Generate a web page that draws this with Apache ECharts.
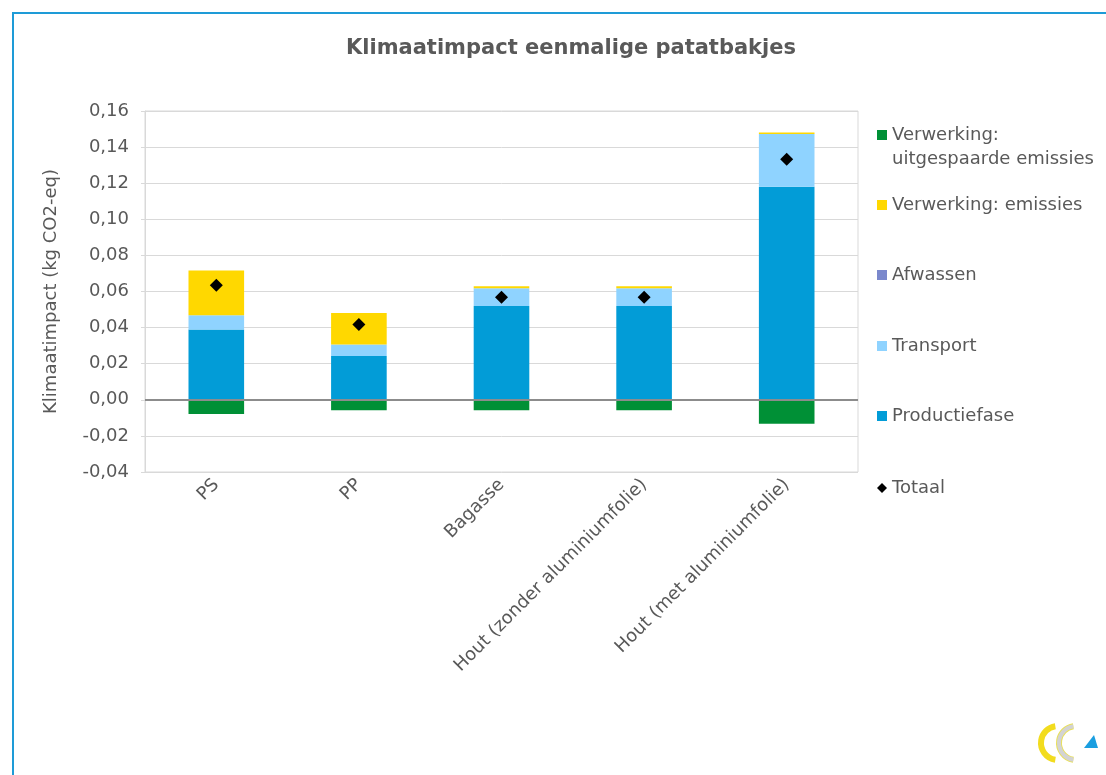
<!DOCTYPE html>
<html>
<head>
<meta charset="utf-8">
<script src="https://cdn.jsdelivr.net/npm/echarts@6/dist/echarts.min.js"></script>
<style>
html,body{margin:0;padding:0;background:#fff;}
#chart{width:1106px;height:775px;}
</style>
</head>
<body>
<div id="chart"></div>
<script>
var categories = ['PS', 'PP', 'Bagasse', 'Hout (zonder aluminiumfolie)', 'Hout (met aluminiumfolie)'];
var productiefase = [0.0390, 0.0243, 0.0520, 0.0520, 0.1180];
var transport = [0.0079, 0.0063, 0.0098, 0.0098, 0.0292];
var afwassen = [0, 0, 0, 0, 0];
var emissies = [0.0248, 0.0175, 0.0011, 0.0011, 0.0009];
var uitgespaard = [-0.0079, -0.0058, -0.0058, -0.0058, -0.0132];
var totaal = [0.0634, 0.0417, 0.0568, 0.0568, 0.1332];
var yTicks = { min: -0.04, max: 0.16, interval: 0.02 };

var FONT = 'DejaVu Sans';
var TXT = '#595959';

function legendItem(name, top, icon, extra, formatter) {
  var ts = { color: TXT, fontFamily: FONT, fontSize: 18, lineHeight: 22 };
  if (extra) { for (var k in extra) ts[k] = extra[k]; }
  var l = {
    data: [{ name: name, icon: icon }], left: 877, top: top, orient: 'vertical', padding: 0,
    itemWidth: 10, itemHeight: 10, itemGap: 0, textStyle: ts,
    selectedMode: false
  };
  if (formatter) l.formatter = formatter;
  return l;
}

var chart = echarts.init(document.getElementById('chart'));
chart.setOption({
  animation: false,
  backgroundColor: '#ffffff',
  title: {
    text: 'Klimaatimpact eenmalige patatbakjes',
    left: 566, top: 33, textAlign: 'center',
    textStyle: { color: TXT, fontFamily: FONT, fontSize: 21, fontWeight: 'bold' }
  },
  legend: [
    legendItem('Verwerking: uitgespaarde emissies', 99, 'rect', { lineHeight: 24 },
      function () { return '\nVerwerking:\nuitgespaarde emissies'; }),
    legendItem('Verwerking: emissies', 194, 'rect'),
    legendItem('Afwassen', 264, 'rect'),
    legendItem('Transport', 335, 'rect'),
    legendItem('Productiefase', 405, 'rect'),
    legendItem('Totaal', 477, 'diamond')
  ],
  grid: { left: 145, right: 248, top: 111, bottom: 303, show: true, borderColor: '#d9d9d9', borderWidth: 1 },
  xAxis: {
    type: 'category', data: categories,
    axisLine: { show: false, onZero: false }, axisTick: { show: false },
    axisLabel: { rotate: 45, margin: 10, color: TXT, fontFamily: FONT, fontSize: 18 }
  },
  yAxis: {
    type: 'value', min: yTicks.min, max: yTicks.max, interval: yTicks.interval,
    name: 'Klimaatimpact (kg CO2-eq)', nameLocation: 'middle', nameGap: 85, nameRotate: 90,
    nameTextStyle: { color: TXT, fontFamily: FONT, fontSize: 18 },
    axisLine: { show: true, lineStyle: { color: '#d9d9d9' } },
    axisTick: { show: true, length: 4, lineStyle: { color: '#d9d9d9' } },
    splitLine: { lineStyle: { color: '#d9d9d9', width: 1 } },
    axisLabel: {
      margin: 16, color: TXT, fontFamily: FONT, fontSize: 18,
      formatter: function (v) { return v.toFixed(2).replace('.', ','); }
    }
  },
  series: [
    { name: 'Productiefase', type: 'bar', stack: 's', data: productiefase, barWidth: '39%',
      itemStyle: { color: '#029cd7' },
      markLine: { silent: true, symbol: ['none', 'none'], label: { show: false },
        lineStyle: { color: '#8c8c8c', width: 2, type: 'solid' }, data: [{ yAxis: 0 }] } },
    { name: 'Transport', type: 'bar', stack: 's', data: transport, itemStyle: { color: '#8fd3ff' } },
    { name: 'Afwassen', type: 'bar', stack: 's', data: afwassen, itemStyle: { color: '#7a88cc' } },
    { name: 'Verwerking: emissies', type: 'bar', stack: 's', data: emissies, itemStyle: { color: '#ffd800' } },
    { name: 'Verwerking: uitgespaarde emissies', type: 'bar', stack: 's', data: uitgespaard, itemStyle: { color: '#009036' } },
    { name: 'Totaal', type: 'scatter', data: totaal, symbol: 'diamond', symbolSize: 13, z: 5,
      itemStyle: { color: '#000000', opacity: 1 } }
  ],
  graphic: [
    { type: 'rect', silent: true, shape: { x: 13, y: 13, width: 1300, height: 1000 },
      style: { fill: 'none', stroke: '#1e9bd7', lineWidth: 2 } },
    { type: 'arc', silent: true, shape: { cx: 1058, cy: 743, r: 17, startAngle: Math.PI * 0.55, endAngle: Math.PI * 1.45 },
      style: { fill: 'none', stroke: '#f2dc1e', lineWidth: 6 } },
    { type: 'arc', silent: true, shape: { cx: 1076, cy: 743, r: 17, startAngle: Math.PI * 0.55, endAngle: Math.PI * 1.45 },
      style: { fill: 'none', stroke: '#e9e05a', lineWidth: 6 } },
    { type: 'arc', silent: true, shape: { cx: 1076, cy: 743, r: 17, startAngle: Math.PI * 1.45, endAngle: Math.PI * 0.55, clockwise: false },
      style: { fill: 'none', stroke: '#d3d3d3', lineWidth: 4 } },
    { type: 'polygon', silent: true, shape: { points: [[1084, 748], [1098, 748], [1094, 735]] },
      style: { fill: '#1a9ee0' } }
  ]
});
</script>
</body>
</html>
